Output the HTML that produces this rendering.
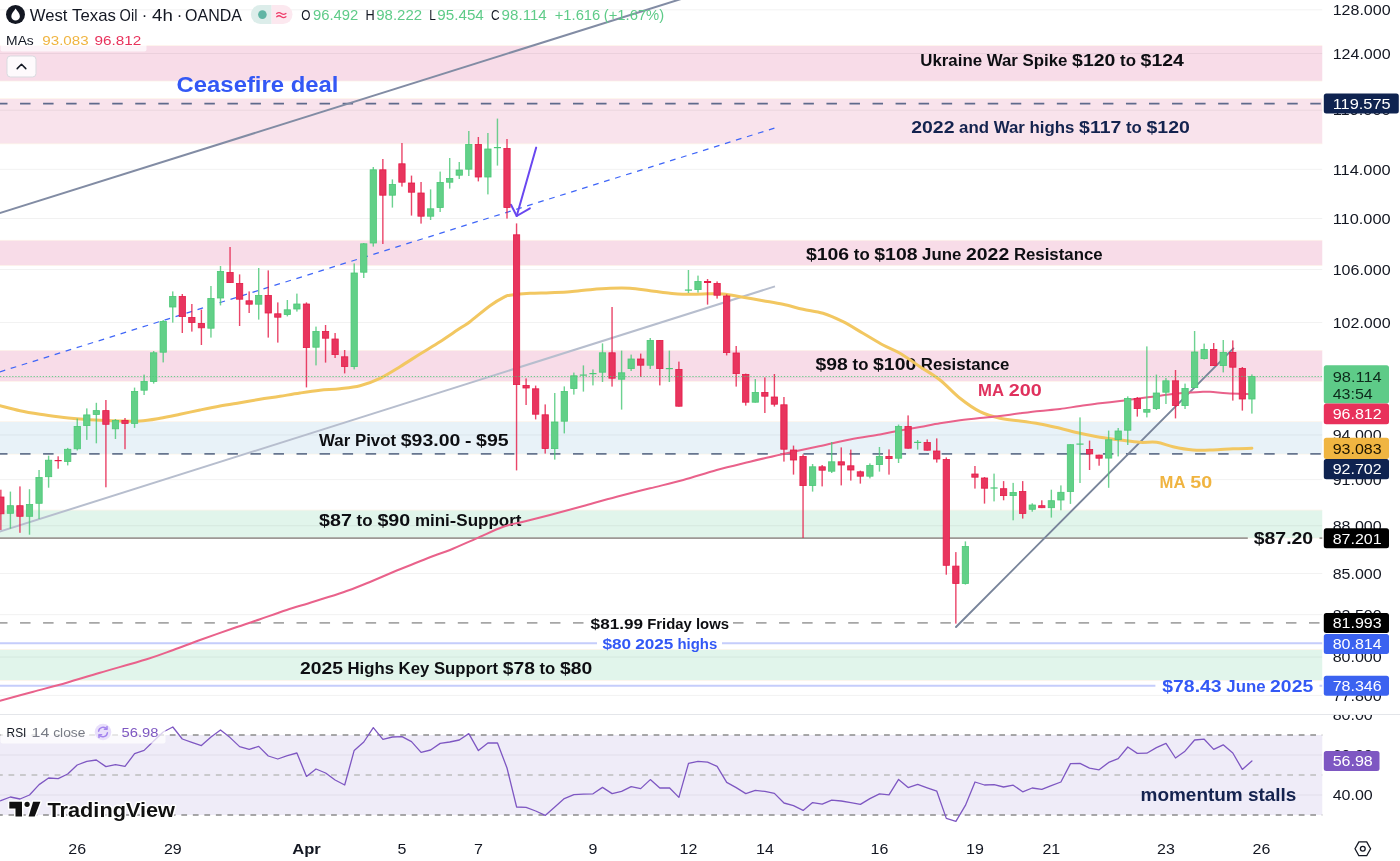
<!DOCTYPE html>
<html lang="en"><head><meta charset="utf-8"><title>West Texas Oil 4h chart</title>
<style>html,body{margin:0;padding:0;background:#fff;overflow:hidden}svg{display:block}text{white-space:pre}</style>
</head><body>
<svg width="1400" height="861" viewBox="0 0 1400 861" font-family='"Liberation Sans", sans-serif'>
<defs><clipPath id="cp"><rect x="0" y="0" width="1322.5" height="714"/></clipPath><clipPath id="cr"><rect x="0" y="715" width="1322.5" height="120"/></clipPath></defs>
<rect width="1400" height="861" fill="#fff"/>
<g clip-path="url(#cp)">
<rect x="0" y="45.8" width="1322.5" height="35.10" fill="#f8dce8"/>
<rect x="0" y="45.3" width="1322.5" height="0.7" fill="#fdf1e2" fill-opacity="0.8"/><rect x="0" y="80.70" width="1322.5" height="0.7" fill="#fdf1e2" fill-opacity="0.8"/>
<rect x="0" y="98.8" width="1322.5" height="44.90" fill="#f9e3ec"/>
<rect x="0" y="98.3" width="1322.5" height="0.7" fill="#fdf1e2" fill-opacity="0.8"/><rect x="0" y="143.50" width="1322.5" height="0.7" fill="#fdf1e2" fill-opacity="0.8"/>
<rect x="0" y="240.4" width="1322.5" height="25.00" fill="#f8dce8"/>
<rect x="0" y="239.9" width="1322.5" height="0.7" fill="#fdf1e2" fill-opacity="0.8"/><rect x="0" y="265.20" width="1322.5" height="0.7" fill="#fdf1e2" fill-opacity="0.8"/>
<rect x="0" y="350.5" width="1322.5" height="30.70" fill="#f8dce8"/>
<rect x="0" y="350.0" width="1322.5" height="0.7" fill="#fdf1e2" fill-opacity="0.8"/><rect x="0" y="381.00" width="1322.5" height="0.7" fill="#fdf1e2" fill-opacity="0.8"/>
<rect x="0" y="421.8" width="1322.5" height="32.20" fill="#e8f2f8"/>
<rect x="0" y="421.3" width="1322.5" height="0.7" fill="#fdf1e2" fill-opacity="0.8"/><rect x="0" y="453.80" width="1322.5" height="0.7" fill="#fdf1e2" fill-opacity="0.8"/>
<rect x="0" y="510.2" width="1322.5" height="27.80" fill="#e1f5eb"/>
<rect x="0" y="509.7" width="1322.5" height="0.7" fill="#fdf1e2" fill-opacity="0.8"/><rect x="0" y="537.80" width="1322.5" height="0.7" fill="#fdf1e2" fill-opacity="0.8"/>
<rect x="0" y="649.7" width="1322.5" height="30.50" fill="#e1f5eb"/>
<rect x="0" y="649.2" width="1322.5" height="0.7" fill="#fdf1e2" fill-opacity="0.8"/><rect x="0" y="680.00" width="1322.5" height="0.7" fill="#fdf1e2" fill-opacity="0.8"/>
<rect x="0" y="9.32" width="1322.5" height="1" fill="#000" fill-opacity="0.055"/>
<rect x="0" y="53.03" width="1322.5" height="1" fill="#000" fill-opacity="0.055"/>
<rect x="0" y="109.71" width="1322.5" height="1" fill="#000" fill-opacity="0.055"/>
<rect x="0" y="168.82" width="1322.5" height="1" fill="#000" fill-opacity="0.055"/>
<rect x="0" y="218.00" width="1322.5" height="1" fill="#000" fill-opacity="0.055"/>
<rect x="0" y="269.01" width="1322.5" height="1" fill="#000" fill-opacity="0.055"/>
<rect x="0" y="321.97" width="1322.5" height="1" fill="#000" fill-opacity="0.055"/>
<rect x="0" y="377.06" width="1322.5" height="1" fill="#000" fill-opacity="0.055"/>
<rect x="0" y="434.44" width="1322.5" height="1" fill="#000" fill-opacity="0.055"/>
<rect x="0" y="479.11" width="1322.5" height="1" fill="#000" fill-opacity="0.055"/>
<rect x="0" y="525.27" width="1322.5" height="1" fill="#000" fill-opacity="0.055"/>
<rect x="0" y="573.03" width="1322.5" height="1" fill="#000" fill-opacity="0.055"/>
<rect x="0" y="614.14" width="1322.5" height="1" fill="#000" fill-opacity="0.055"/>
<rect x="0" y="656.51" width="1322.5" height="1" fill="#000" fill-opacity="0.055"/>
<rect x="0" y="694.91" width="1322.5" height="1" fill="#000" fill-opacity="0.055"/>
<line x1="-3" x2="1322.5" y1="103.6" y2="103.6" stroke="#5f6a8c" stroke-width="1.8" stroke-dasharray="10.5 12.54"/>
<line x1="-3" x2="1322.5" y1="453.9" y2="453.9" stroke="#66758f" stroke-width="1.8" stroke-dasharray="10.5 12.54"/>
<line x1="0" x2="1247.8" y1="538.1" y2="538.1" stroke="#9d9995" stroke-width="1.8"/>
<line x1="1319.5" x2="1322.5" y1="538.1" y2="538.1" stroke="#9d9995" stroke-width="1.8"/>
<line x1="-3" x2="586" y1="622.9" y2="622.9" stroke="#a6a6a6" stroke-width="1.8" stroke-dasharray="10.5 12.54"/>
<line x1="733" x2="1322.5" y1="622.9" y2="622.9" stroke="#a6a6a6" stroke-width="1.8" stroke-dasharray="10.5 12.54"/>
<line x1="0" x2="597" y1="643.3" y2="643.3" stroke="#c5cdfb" stroke-width="2"/>
<line x1="722" x2="1322.5" y1="643.3" y2="643.3" stroke="#c5cdfb" stroke-width="2"/>
<line x1="0" x2="1155.4" y1="685.7" y2="685.7" stroke="#c5cdfb" stroke-width="2"/>
<line x1="1319.5" x2="1322.5" y1="685.7" y2="685.7" stroke="#c5cdfb" stroke-width="2"/>
<line x1="-5" y1="214.6" x2="690" y2="-3.8" stroke="#828ca4" stroke-width="2"/>
<line x1="-5" y1="533.1" x2="775" y2="286.4" stroke="#b7bece" stroke-width="2"/>
<line x1="-5" y1="373.4" x2="775" y2="127.9" stroke="#3f66f8" stroke-width="1.25" stroke-dasharray="5.76 5.76" stroke-dashoffset="6.57"/>
<line x1="956" y1="627" x2="1233.4" y2="348.4" stroke="#78849a" stroke-width="1.9" stroke-linecap="round"/>
<g stroke="#6947f0" stroke-width="2" fill="none" stroke-linecap="round" stroke-linejoin="round"><path d="M536.2 147.6L516.7 216"/><path d="M511 204.7L516.7 216L529.9 208.3"/></g>
<text x="176.6" y="92.1" font-size="22.3" fill="#3358f5" font-weight="700" textLength="161.8" lengthAdjust="spacingAndGlyphs">Ceasefire deal</text>
<text x="920.3" y="65.7" font-size="15.8" fill="#0d0e12" font-weight="700" textLength="147.2" lengthAdjust="spacingAndGlyphs">Ukraine War Spike</text>
<text x="1072.1" y="65.7" font-size="15.8" fill="#0d0e12" font-weight="700" textLength="43.3" lengthAdjust="spacingAndGlyphs">$120</text>
<text x="1120.1" y="65.7" font-size="15.8" fill="#0d0e12" font-weight="700" textLength="15.9" lengthAdjust="spacingAndGlyphs">to</text>
<text x="1140.6" y="65.7" font-size="15.8" fill="#0d0e12" font-weight="700" textLength="43.3" lengthAdjust="spacingAndGlyphs">$124</text>
<text x="911.2" y="132.7" font-size="15.8" fill="#14234f" font-weight="700" textLength="43.3" lengthAdjust="spacingAndGlyphs">2022</text>
<text x="959.1" y="132.7" font-size="15.8" fill="#14234f" font-weight="700" textLength="115.3" lengthAdjust="spacingAndGlyphs">and War highs</text>
<text x="1079.1" y="132.7" font-size="15.8" fill="#14234f" font-weight="700" textLength="42.2" lengthAdjust="spacingAndGlyphs">$117</text>
<text x="1126.0" y="132.7" font-size="15.8" fill="#14234f" font-weight="700" textLength="15.9" lengthAdjust="spacingAndGlyphs">to</text>
<text x="1146.5" y="132.7" font-size="15.8" fill="#14234f" font-weight="700" textLength="43.3" lengthAdjust="spacingAndGlyphs">$120</text>
<text x="805.9" y="259.6" font-size="15.8" fill="#0d0e12" font-weight="700" textLength="43.2" lengthAdjust="spacingAndGlyphs">$106</text>
<text x="853.8" y="259.6" font-size="15.8" fill="#0d0e12" font-weight="700" textLength="15.9" lengthAdjust="spacingAndGlyphs">to</text>
<text x="874.3" y="259.6" font-size="15.8" fill="#0d0e12" font-weight="700" textLength="43.2" lengthAdjust="spacingAndGlyphs">$108</text>
<text x="922.1" y="259.6" font-size="15.8" fill="#0d0e12" font-weight="700" textLength="39.2" lengthAdjust="spacingAndGlyphs">June</text>
<text x="966.0" y="259.6" font-size="15.8" fill="#0d0e12" font-weight="700" textLength="43.2" lengthAdjust="spacingAndGlyphs">2022</text>
<text x="1013.9" y="259.6" font-size="15.8" fill="#0d0e12" font-weight="700" textLength="88.7" lengthAdjust="spacingAndGlyphs">Resistance</text>
<text x="815.6" y="369.6" font-size="15.8" fill="#0d0e12" font-weight="700" textLength="32.3" lengthAdjust="spacingAndGlyphs">$98</text>
<text x="852.6" y="369.6" font-size="15.8" fill="#0d0e12" font-weight="700" textLength="15.8" lengthAdjust="spacingAndGlyphs">to</text>
<text x="873.1" y="369.6" font-size="15.8" fill="#0d0e12" font-weight="700" textLength="43.1" lengthAdjust="spacingAndGlyphs">$100</text>
<text x="920.8" y="369.6" font-size="15.8" fill="#0d0e12" font-weight="700" textLength="88.6" lengthAdjust="spacingAndGlyphs">Resistance</text>
<text x="978.0" y="396.0" font-size="15.8" fill="#e0315d" font-weight="700" textLength="26.0" lengthAdjust="spacingAndGlyphs">MA</text>
<text x="1008.7" y="396.0" font-size="15.8" fill="#e0315d" font-weight="700" textLength="33.0" lengthAdjust="spacingAndGlyphs">200</text>
<text x="1159.6" y="487.7" font-size="15.8" fill="#f0b440" font-weight="700" textLength="25.9" lengthAdjust="spacingAndGlyphs">MA</text>
<text x="1190.2" y="487.7" font-size="15.8" fill="#f0b440" font-weight="700" textLength="21.9" lengthAdjust="spacingAndGlyphs">50</text>
<text x="319.1" y="445.9" font-size="15.8" fill="#0d0e12" font-weight="700" textLength="77.0" lengthAdjust="spacingAndGlyphs">War Pivot</text>
<text x="400.8" y="445.9" font-size="15.8" fill="#0d0e12" font-weight="700" textLength="59.5" lengthAdjust="spacingAndGlyphs">$93.00</text>
<text x="465.0" y="445.9" font-size="15.8" fill="#0d0e12" font-weight="700" textLength="6.5" lengthAdjust="spacingAndGlyphs">-</text>
<text x="476.1" y="445.9" font-size="15.8" fill="#0d0e12" font-weight="700" textLength="32.5" lengthAdjust="spacingAndGlyphs">$95</text>
<text x="319.1" y="526.0" font-size="15.8" fill="#0d0e12" font-weight="700" textLength="32.8" lengthAdjust="spacingAndGlyphs">$87</text>
<text x="356.6" y="526.0" font-size="15.8" fill="#0d0e12" font-weight="700" textLength="16.0" lengthAdjust="spacingAndGlyphs">to</text>
<text x="377.4" y="526.0" font-size="15.8" fill="#0d0e12" font-weight="700" textLength="32.8" lengthAdjust="spacingAndGlyphs">$90</text>
<text x="414.9" y="526.0" font-size="15.8" fill="#0d0e12" font-weight="700" textLength="34.9" lengthAdjust="spacingAndGlyphs">mini</text>
<text x="449.8" y="526.0" font-size="15.8" fill="#0d0e12" font-weight="700" textLength="6.5" lengthAdjust="spacingAndGlyphs">-</text>
<text x="456.3" y="526.0" font-size="15.8" fill="#0d0e12" font-weight="700" textLength="65.2" lengthAdjust="spacingAndGlyphs">Support</text>
<text x="590.6" y="628.8" font-size="14" fill="#0d0e12" font-weight="700" textLength="52.5" lengthAdjust="spacingAndGlyphs">$81.99</text>
<text x="647.2" y="628.8" font-size="14" fill="#0d0e12" font-weight="700" textLength="81.8" lengthAdjust="spacingAndGlyphs">Friday lows</text>
<text x="602.4" y="648.8" font-size="14" fill="#3358f5" font-weight="700" textLength="28.7" lengthAdjust="spacingAndGlyphs">$80</text>
<text x="635.2" y="648.8" font-size="14" fill="#3358f5" font-weight="700" textLength="38.2" lengthAdjust="spacingAndGlyphs">2025</text>
<text x="677.5" y="648.8" font-size="14" fill="#3358f5" font-weight="700" textLength="39.7" lengthAdjust="spacingAndGlyphs">highs</text>
<text x="299.9" y="674.2" font-size="15.8" fill="#0d0e12" font-weight="700" textLength="43.0" lengthAdjust="spacingAndGlyphs">2025</text>
<text x="347.5" y="674.2" font-size="15.8" fill="#0d0e12" font-weight="700" textLength="150.5" lengthAdjust="spacingAndGlyphs">Highs Key Support</text>
<text x="502.7" y="674.2" font-size="15.8" fill="#0d0e12" font-weight="700" textLength="32.2" lengthAdjust="spacingAndGlyphs">$78</text>
<text x="539.5" y="674.2" font-size="15.8" fill="#0d0e12" font-weight="700" textLength="15.8" lengthAdjust="spacingAndGlyphs">to</text>
<text x="560.0" y="674.2" font-size="15.8" fill="#0d0e12" font-weight="700" textLength="32.2" lengthAdjust="spacingAndGlyphs">$80</text>
<text x="1253.7" y="544.0" font-size="15.8" fill="#0d0e12" font-weight="700" textLength="59.5" lengthAdjust="spacingAndGlyphs">$87.20</text>
<text x="1162.3" y="691.8" font-size="15.8" fill="#3358f5" font-weight="700" textLength="59.3" lengthAdjust="spacingAndGlyphs">$78.43</text>
<text x="1226.3" y="691.8" font-size="15.8" fill="#3358f5" font-weight="700" textLength="39.2" lengthAdjust="spacingAndGlyphs">June</text>
<text x="1270.1" y="691.8" font-size="15.8" fill="#3358f5" font-weight="700" textLength="43.1" lengthAdjust="spacingAndGlyphs">2025</text>
<path d="M-2.0 405.3C-1.7 405.4 -3.7 404.8 0.0 405.7C3.7 406.6 13.3 409.3 20.0 410.7C26.7 412.1 33.3 413.2 40.0 414.3C46.7 415.4 53.3 416.2 60.0 417.0C66.7 417.8 73.3 418.4 80.0 419.0C86.7 419.6 93.3 420.0 100.0 420.3C106.7 420.6 113.3 420.9 120.0 421.0C126.7 421.1 133.3 421.4 140.0 421.0C146.7 420.6 153.3 419.4 160.0 418.3C166.7 417.2 173.3 415.7 180.0 414.3C186.7 412.9 193.3 411.4 200.0 410.0C206.7 408.6 213.3 407.2 220.0 406.0C226.7 404.8 233.3 403.8 240.0 402.7C246.7 401.6 253.3 400.4 260.0 399.3C266.7 398.2 273.3 397.4 280.0 396.3C286.7 395.2 293.3 394.0 300.0 393.0C306.7 392.0 313.3 391.0 320.0 390.3C326.7 389.6 333.3 389.5 340.0 388.7C346.7 387.9 353.3 387.4 360.0 385.7C366.7 384.0 373.3 381.5 380.0 378.3C386.7 375.1 393.3 370.8 400.0 366.7C406.7 362.6 413.3 358.2 420.0 354.0C426.7 349.8 433.3 346.0 440.0 341.7C446.7 337.4 455.0 331.6 460.0 328.3C465.0 325.0 465.0 325.5 470.0 321.7C475.0 317.9 484.2 309.9 490.0 305.7C495.8 301.5 501.7 298.4 505.0 296.7C508.3 295.0 505.8 295.9 510.0 295.3C514.2 294.7 523.3 293.7 530.0 293.3C536.7 292.9 543.3 293.0 550.0 292.7C556.7 292.4 563.3 292.2 570.0 291.7C576.7 291.2 583.3 290.3 590.0 289.7C596.7 289.1 603.3 288.5 610.0 288.3C616.7 288.1 623.3 287.9 630.0 288.3C636.7 288.7 643.3 289.9 650.0 290.7C656.7 291.5 664.5 292.7 670.0 293.3C675.5 293.9 677.5 294.2 683.0 294.3C688.5 294.4 696.3 294.1 703.0 294.0C709.7 293.9 716.3 293.4 723.0 294.0C729.7 294.6 736.3 296.2 743.0 297.3C749.7 298.4 756.3 299.5 763.0 300.7C769.7 301.9 776.3 302.9 783.0 304.3C789.7 305.7 796.3 307.8 803.0 309.3C809.7 310.8 816.3 311.2 823.0 313.3C829.7 315.4 836.3 318.4 843.0 321.7C849.7 325.0 856.3 329.4 863.0 333.3C869.7 337.2 876.8 341.7 883.0 345.0C889.2 348.3 893.8 349.7 900.0 353.3C906.2 356.9 913.3 362.2 920.0 366.7C926.7 371.1 933.3 374.7 940.0 380.0C946.7 385.3 953.3 393.0 960.0 398.3C966.7 403.6 973.3 408.4 980.0 411.7C986.7 415.0 993.3 416.8 1000.0 418.3C1006.7 419.9 1013.3 420.1 1020.0 421.0C1026.7 421.9 1033.3 422.8 1040.0 424.0C1046.7 425.2 1053.3 426.8 1060.0 428.3C1066.7 429.9 1073.3 431.8 1080.0 433.3C1086.7 434.8 1093.3 436.2 1100.0 437.3C1106.7 438.4 1113.3 439.2 1120.0 440.0C1126.7 440.8 1133.9 441.9 1140.0 442.3C1146.1 442.7 1151.2 441.6 1156.7 442.3C1162.2 443.0 1167.0 445.4 1173.0 446.7C1179.0 448.0 1186.3 449.4 1193.0 450.0C1199.7 450.6 1206.3 450.2 1213.0 450.0C1219.7 449.8 1226.5 449.0 1233.0 448.7C1239.5 448.4 1248.8 448.4 1251.9 448.3" fill="none" stroke="#f2c761" stroke-width="3" stroke-linejoin="round" stroke-linecap="round"/>
<path d="M-2.0 701.2C-1.7 701.1 -5.9 702.3 0.0 700.7C5.9 699.1 22.2 694.7 33.3 691.7C44.4 688.7 55.6 685.9 66.7 682.7C77.8 679.5 86.7 676.6 100.0 672.7C113.3 668.8 134.5 663.1 146.7 659.3C158.9 655.5 164.4 653.2 173.3 650.0C182.2 646.8 190.0 643.6 200.0 640.0C210.0 636.4 223.3 631.8 233.3 628.3C243.3 624.8 251.1 622.3 260.0 619.3C268.9 616.2 277.8 612.9 286.7 610.0C295.6 607.1 303.9 604.7 313.3 601.7C322.7 598.8 334.4 595.4 343.3 592.3C352.2 589.2 357.2 587.1 366.7 583.3C376.1 579.5 388.9 573.8 400.0 569.3C411.1 564.8 425.0 559.2 433.3 556.0C441.6 552.8 442.8 553.0 450.0 550.0C457.2 547.0 467.8 542.2 476.7 538.3C485.6 534.4 495.5 529.5 503.3 526.7C511.1 523.9 515.5 523.7 523.3 521.7C531.1 519.8 540.0 517.6 550.0 515.0C560.0 512.4 572.2 509.1 583.3 506.0C594.4 502.9 605.6 499.6 616.7 496.7C627.8 493.8 638.9 491.1 650.0 488.3C661.1 485.5 672.2 483.1 683.3 480.0C694.4 476.9 705.6 473.1 716.7 470.0C727.8 466.9 738.9 464.4 750.0 461.7C761.1 459.0 772.2 456.5 783.3 454.0C794.4 451.5 805.6 449.1 816.7 446.7C827.8 444.3 839.5 441.4 850.0 439.4C860.5 437.3 871.7 435.9 880.0 434.4C888.3 432.9 893.3 431.8 900.0 430.6C906.7 429.4 913.3 428.2 920.0 427.0C926.7 425.8 933.3 424.4 940.0 423.3C946.7 422.2 953.3 421.2 960.0 420.3C966.7 419.4 973.3 418.7 980.0 418.0C986.7 417.3 993.3 416.8 1000.0 416.0C1006.7 415.2 1013.3 414.1 1020.0 413.3C1026.7 412.5 1033.3 411.7 1040.0 411.0C1046.7 410.3 1053.3 409.8 1060.0 409.0C1066.7 408.2 1073.3 406.9 1080.0 406.0C1086.7 405.1 1093.3 404.1 1100.0 403.3C1106.7 402.5 1113.3 401.8 1120.0 401.0C1126.7 400.2 1133.3 399.2 1140.0 398.3C1146.7 397.4 1153.3 396.5 1160.0 395.7C1166.7 394.9 1173.3 393.9 1180.0 393.3C1186.7 392.7 1195.0 392.3 1200.0 392.0C1205.0 391.7 1205.5 391.5 1210.0 391.7C1214.5 391.9 1220.6 392.9 1226.7 393.3C1232.8 393.7 1242.5 393.9 1246.7 394.0C1250.9 394.1 1251.0 394.2 1251.9 394.2" fill="none" stroke="#e9628b" stroke-width="2" stroke-linejoin="round" stroke-linecap="round"/>
<rect x="0.15" y="489.7" width="1.4" height="40.3" fill="#e51c48" fill-opacity="0.82"/>
<rect x="-2.30" y="497.0" width="6.3" height="16.8" fill="#e8355e" stroke="#e51c48" stroke-width="0.8"/>
<rect x="9.70" y="491.6" width="1.4" height="37.1" fill="#4cc877" fill-opacity="0.82"/>
<rect x="7.25" y="505.7" width="6.3" height="7.6" fill="#62d088" stroke="#4cc877" stroke-width="0.8"/>
<rect x="19.25" y="486.4" width="1.4" height="46.4" fill="#e51c48" fill-opacity="0.82"/>
<rect x="16.80" y="505.7" width="6.3" height="10.6" fill="#e8355e" stroke="#e51c48" stroke-width="0.8"/>
<rect x="28.80" y="489.2" width="1.4" height="45.5" fill="#4cc877" fill-opacity="0.82"/>
<rect x="26.35" y="504.4" width="6.3" height="11.9" fill="#62d088" stroke="#4cc877" stroke-width="0.8"/>
<rect x="38.35" y="470.0" width="1.4" height="48.9" fill="#4cc877" fill-opacity="0.82"/>
<rect x="35.90" y="477.5" width="6.3" height="25.8" fill="#62d088" stroke="#4cc877" stroke-width="0.8"/>
<rect x="47.90" y="455.7" width="1.4" height="32.0" fill="#4cc877" fill-opacity="0.82"/>
<rect x="45.45" y="460.2" width="6.3" height="16.5" fill="#62d088" stroke="#4cc877" stroke-width="0.8"/>
<rect x="57.45" y="456.3" width="1.4" height="12.4" fill="#e51c48" fill-opacity="0.82"/>
<rect x="54.60" y="460.0" width="7.1" height="1.2" fill="#e51c48"/>
<rect x="67.00" y="447.9" width="1.4" height="17.5" fill="#4cc877" fill-opacity="0.82"/>
<rect x="64.55" y="449.3" width="6.3" height="12.2" fill="#62d088" stroke="#4cc877" stroke-width="0.8"/>
<rect x="76.55" y="418.6" width="1.4" height="31.9" fill="#4cc877" fill-opacity="0.82"/>
<rect x="74.10" y="426.4" width="6.3" height="22.4" fill="#62d088" stroke="#4cc877" stroke-width="0.8"/>
<rect x="86.10" y="408.4" width="1.4" height="31.5" fill="#4cc877" fill-opacity="0.82"/>
<rect x="83.65" y="414.9" width="6.3" height="10.7" fill="#62d088" stroke="#4cc877" stroke-width="0.8"/>
<rect x="95.65" y="402.8" width="1.4" height="40.5" fill="#4cc877" fill-opacity="0.82"/>
<rect x="93.20" y="410.6" width="6.3" height="3.9" fill="#62d088" stroke="#4cc877" stroke-width="0.8"/>
<rect x="105.20" y="400.0" width="1.4" height="87.3" fill="#e51c48" fill-opacity="0.82"/>
<rect x="102.75" y="410.6" width="6.3" height="13.7" fill="#e8355e" stroke="#e51c48" stroke-width="0.8"/>
<rect x="114.75" y="419.0" width="1.4" height="20.0" fill="#4cc877" fill-opacity="0.82"/>
<rect x="112.30" y="420.4" width="6.3" height="8.4" fill="#62d088" stroke="#4cc877" stroke-width="0.8"/>
<rect x="124.30" y="418.0" width="1.4" height="31.2" fill="#e51c48" fill-opacity="0.82"/>
<rect x="121.85" y="420.4" width="6.3" height="3.0" fill="#e8355e" stroke="#e51c48" stroke-width="0.8"/>
<rect x="133.85" y="387.6" width="1.4" height="40.3" fill="#4cc877" fill-opacity="0.82"/>
<rect x="131.40" y="391.4" width="6.3" height="32.0" fill="#62d088" stroke="#4cc877" stroke-width="0.8"/>
<rect x="143.40" y="374.6" width="1.4" height="20.4" fill="#4cc877" fill-opacity="0.82"/>
<rect x="140.95" y="381.4" width="6.3" height="8.8" fill="#62d088" stroke="#4cc877" stroke-width="0.8"/>
<rect x="152.95" y="351.0" width="1.4" height="32.6" fill="#4cc877" fill-opacity="0.82"/>
<rect x="150.50" y="352.8" width="6.3" height="28.8" fill="#62d088" stroke="#4cc877" stroke-width="0.8"/>
<rect x="162.50" y="320.0" width="1.4" height="42.4" fill="#4cc877" fill-opacity="0.82"/>
<rect x="160.05" y="321.4" width="6.3" height="30.8" fill="#62d088" stroke="#4cc877" stroke-width="0.8"/>
<rect x="172.05" y="291.4" width="1.4" height="31.2" fill="#4cc877" fill-opacity="0.82"/>
<rect x="169.60" y="296.4" width="6.3" height="10.6" fill="#62d088" stroke="#4cc877" stroke-width="0.8"/>
<rect x="181.60" y="294.0" width="1.4" height="39.0" fill="#e51c48" fill-opacity="0.82"/>
<rect x="179.15" y="296.4" width="6.3" height="20.2" fill="#e8355e" stroke="#e51c48" stroke-width="0.8"/>
<rect x="191.15" y="304.0" width="1.4" height="27.6" fill="#e51c48" fill-opacity="0.82"/>
<rect x="188.70" y="317.4" width="6.3" height="5.2" fill="#e8355e" stroke="#e51c48" stroke-width="0.8"/>
<rect x="200.70" y="309.6" width="1.4" height="35.4" fill="#e51c48" fill-opacity="0.82"/>
<rect x="198.25" y="323.4" width="6.3" height="4.4" fill="#e8355e" stroke="#e51c48" stroke-width="0.8"/>
<rect x="210.25" y="286.0" width="1.4" height="51.6" fill="#4cc877" fill-opacity="0.82"/>
<rect x="207.80" y="298.4" width="6.3" height="29.8" fill="#62d088" stroke="#4cc877" stroke-width="0.8"/>
<rect x="219.80" y="266.0" width="1.4" height="39.4" fill="#4cc877" fill-opacity="0.82"/>
<rect x="217.35" y="271.4" width="6.3" height="26.6" fill="#62d088" stroke="#4cc877" stroke-width="0.8"/>
<rect x="229.35" y="247.0" width="1.4" height="36.0" fill="#e51c48" fill-opacity="0.82"/>
<rect x="226.90" y="272.4" width="6.3" height="10.2" fill="#e8355e" stroke="#e51c48" stroke-width="0.8"/>
<rect x="238.90" y="274.4" width="1.4" height="51.6" fill="#e51c48" fill-opacity="0.82"/>
<rect x="236.45" y="283.4" width="6.3" height="15.8" fill="#e8355e" stroke="#e51c48" stroke-width="0.8"/>
<rect x="248.45" y="291.4" width="1.4" height="21.6" fill="#e51c48" fill-opacity="0.82"/>
<rect x="246.00" y="300.8" width="6.3" height="3.4" fill="#e8355e" stroke="#e51c48" stroke-width="0.8"/>
<rect x="258.00" y="268.0" width="1.4" height="51.6" fill="#4cc877" fill-opacity="0.82"/>
<rect x="255.55" y="295.4" width="6.3" height="8.8" fill="#62d088" stroke="#4cc877" stroke-width="0.8"/>
<rect x="267.55" y="270.4" width="1.4" height="67.2" fill="#e51c48" fill-opacity="0.82"/>
<rect x="265.10" y="295.4" width="6.3" height="17.6" fill="#e8355e" stroke="#e51c48" stroke-width="0.8"/>
<rect x="277.10" y="302.4" width="1.4" height="40.2" fill="#e51c48" fill-opacity="0.82"/>
<rect x="274.65" y="313.8" width="6.3" height="3.4" fill="#e8355e" stroke="#e51c48" stroke-width="0.8"/>
<rect x="286.65" y="300.0" width="1.4" height="16.4" fill="#4cc877" fill-opacity="0.82"/>
<rect x="284.20" y="309.8" width="6.3" height="4.8" fill="#62d088" stroke="#4cc877" stroke-width="0.8"/>
<rect x="296.20" y="293.6" width="1.4" height="18.0" fill="#4cc877" fill-opacity="0.82"/>
<rect x="293.75" y="304.0" width="6.3" height="5.0" fill="#62d088" stroke="#4cc877" stroke-width="0.8"/>
<rect x="305.75" y="302.4" width="1.4" height="85.0" fill="#e51c48" fill-opacity="0.82"/>
<rect x="303.30" y="304.0" width="6.3" height="43.6" fill="#e8355e" stroke="#e51c48" stroke-width="0.8"/>
<rect x="315.30" y="326.6" width="1.4" height="38.8" fill="#4cc877" fill-opacity="0.82"/>
<rect x="312.85" y="331.4" width="6.3" height="15.8" fill="#62d088" stroke="#4cc877" stroke-width="0.8"/>
<rect x="324.85" y="325.0" width="1.4" height="37.6" fill="#e51c48" fill-opacity="0.82"/>
<rect x="322.40" y="331.4" width="6.3" height="6.8" fill="#e8355e" stroke="#e51c48" stroke-width="0.8"/>
<rect x="334.40" y="333.0" width="1.4" height="25.0" fill="#e51c48" fill-opacity="0.82"/>
<rect x="331.95" y="339.0" width="6.3" height="15.6" fill="#e8355e" stroke="#e51c48" stroke-width="0.8"/>
<rect x="343.95" y="350.0" width="1.4" height="23.4" fill="#e51c48" fill-opacity="0.82"/>
<rect x="341.50" y="356.8" width="6.3" height="9.8" fill="#e8355e" stroke="#e51c48" stroke-width="0.8"/>
<rect x="353.50" y="263.4" width="1.4" height="106.0" fill="#4cc877" fill-opacity="0.82"/>
<rect x="351.05" y="273.0" width="6.3" height="93.6" fill="#62d088" stroke="#4cc877" stroke-width="0.8"/>
<rect x="363.05" y="243.0" width="1.4" height="35.0" fill="#4cc877" fill-opacity="0.82"/>
<rect x="360.60" y="243.8" width="6.3" height="28.4" fill="#62d088" stroke="#4cc877" stroke-width="0.8"/>
<rect x="372.60" y="167.0" width="1.4" height="79.6" fill="#4cc877" fill-opacity="0.82"/>
<rect x="370.15" y="169.8" width="6.3" height="73.2" fill="#62d088" stroke="#4cc877" stroke-width="0.8"/>
<rect x="382.15" y="159.0" width="1.4" height="85.0" fill="#e51c48" fill-opacity="0.82"/>
<rect x="379.70" y="169.8" width="6.3" height="25.4" fill="#e8355e" stroke="#e51c48" stroke-width="0.8"/>
<rect x="391.70" y="179.4" width="1.4" height="28.2" fill="#4cc877" fill-opacity="0.82"/>
<rect x="389.25" y="184.4" width="6.3" height="10.8" fill="#62d088" stroke="#4cc877" stroke-width="0.8"/>
<rect x="401.25" y="143.0" width="1.4" height="43.6" fill="#e51c48" fill-opacity="0.82"/>
<rect x="398.80" y="163.8" width="6.3" height="18.4" fill="#e8355e" stroke="#e51c48" stroke-width="0.8"/>
<rect x="410.80" y="175.6" width="1.4" height="40.0" fill="#e51c48" fill-opacity="0.82"/>
<rect x="408.35" y="183.0" width="6.3" height="9.2" fill="#e8355e" stroke="#e51c48" stroke-width="0.8"/>
<rect x="420.35" y="182.0" width="1.4" height="41.6" fill="#e51c48" fill-opacity="0.82"/>
<rect x="417.90" y="193.0" width="6.3" height="23.2" fill="#e8355e" stroke="#e51c48" stroke-width="0.8"/>
<rect x="429.90" y="189.4" width="1.4" height="30.6" fill="#4cc877" fill-opacity="0.82"/>
<rect x="427.45" y="208.8" width="6.3" height="7.4" fill="#62d088" stroke="#4cc877" stroke-width="0.8"/>
<rect x="439.45" y="171.6" width="1.4" height="40.4" fill="#4cc877" fill-opacity="0.82"/>
<rect x="437.00" y="182.4" width="6.3" height="25.2" fill="#62d088" stroke="#4cc877" stroke-width="0.8"/>
<rect x="449.00" y="158.0" width="1.4" height="30.6" fill="#4cc877" fill-opacity="0.82"/>
<rect x="446.55" y="178.4" width="6.3" height="3.8" fill="#62d088" stroke="#4cc877" stroke-width="0.8"/>
<rect x="458.55" y="162.0" width="1.4" height="17.0" fill="#4cc877" fill-opacity="0.82"/>
<rect x="456.10" y="170.0" width="6.3" height="5.2" fill="#62d088" stroke="#4cc877" stroke-width="0.8"/>
<rect x="468.10" y="131.0" width="1.4" height="45.0" fill="#4cc877" fill-opacity="0.82"/>
<rect x="465.65" y="144.4" width="6.3" height="24.8" fill="#62d088" stroke="#4cc877" stroke-width="0.8"/>
<rect x="477.65" y="137.0" width="1.4" height="44.4" fill="#e51c48" fill-opacity="0.82"/>
<rect x="475.20" y="144.4" width="6.3" height="32.6" fill="#e8355e" stroke="#e51c48" stroke-width="0.8"/>
<rect x="487.20" y="133.0" width="1.4" height="61.4" fill="#4cc877" fill-opacity="0.82"/>
<rect x="484.75" y="149.0" width="6.3" height="28.0" fill="#62d088" stroke="#4cc877" stroke-width="0.8"/>
<rect x="496.75" y="118.6" width="1.4" height="47.0" fill="#4cc877" fill-opacity="0.82"/>
<rect x="493.90" y="147.0" width="7.1" height="1.2" fill="#4cc877"/>
<rect x="506.30" y="139.0" width="1.4" height="79.6" fill="#e51c48" fill-opacity="0.82"/>
<rect x="503.85" y="148.4" width="6.3" height="59.2" fill="#e8355e" stroke="#e51c48" stroke-width="0.8"/>
<rect x="515.85" y="223.4" width="1.4" height="247.0" fill="#e51c48" fill-opacity="0.82"/>
<rect x="513.40" y="234.8" width="6.3" height="149.8" fill="#e8355e" stroke="#e51c48" stroke-width="0.8"/>
<rect x="525.40" y="378.4" width="1.4" height="26.6" fill="#e51c48" fill-opacity="0.82"/>
<rect x="522.95" y="385.4" width="6.3" height="2.6" fill="#e8355e" stroke="#e51c48" stroke-width="0.8"/>
<rect x="534.95" y="385.6" width="1.4" height="33.8" fill="#e51c48" fill-opacity="0.82"/>
<rect x="532.50" y="388.8" width="6.3" height="25.4" fill="#e8355e" stroke="#e51c48" stroke-width="0.8"/>
<rect x="544.50" y="404.4" width="1.4" height="49.2" fill="#e51c48" fill-opacity="0.82"/>
<rect x="542.05" y="414.8" width="6.3" height="33.8" fill="#e8355e" stroke="#e51c48" stroke-width="0.8"/>
<rect x="554.05" y="393.0" width="1.4" height="66.6" fill="#4cc877" fill-opacity="0.82"/>
<rect x="551.60" y="422.0" width="6.3" height="26.6" fill="#62d088" stroke="#4cc877" stroke-width="0.8"/>
<rect x="563.60" y="386.4" width="1.4" height="47.0" fill="#4cc877" fill-opacity="0.82"/>
<rect x="561.15" y="391.4" width="6.3" height="29.8" fill="#62d088" stroke="#4cc877" stroke-width="0.8"/>
<rect x="573.15" y="372.6" width="1.4" height="22.0" fill="#4cc877" fill-opacity="0.82"/>
<rect x="570.70" y="375.8" width="6.3" height="12.8" fill="#62d088" stroke="#4cc877" stroke-width="0.8"/>
<rect x="582.70" y="365.4" width="1.4" height="26.2" fill="#4cc877" fill-opacity="0.82"/>
<rect x="579.85" y="374.5" width="7.1" height="1.2" fill="#4cc877"/>
<rect x="592.25" y="369.4" width="1.4" height="16.0" fill="#4cc877" fill-opacity="0.82"/>
<rect x="589.40" y="373.0" width="7.1" height="1.2" fill="#4cc877"/>
<rect x="601.80" y="343.4" width="1.4" height="38.6" fill="#4cc877" fill-opacity="0.82"/>
<rect x="599.35" y="352.8" width="6.3" height="19.4" fill="#62d088" stroke="#4cc877" stroke-width="0.8"/>
<rect x="611.35" y="307.0" width="1.4" height="79.6" fill="#e51c48" fill-opacity="0.82"/>
<rect x="608.90" y="352.8" width="6.3" height="25.4" fill="#e8355e" stroke="#e51c48" stroke-width="0.8"/>
<rect x="620.90" y="350.6" width="1.4" height="59.0" fill="#4cc877" fill-opacity="0.82"/>
<rect x="618.45" y="372.8" width="6.3" height="6.4" fill="#62d088" stroke="#4cc877" stroke-width="0.8"/>
<rect x="630.45" y="354.6" width="1.4" height="16.4" fill="#4cc877" fill-opacity="0.82"/>
<rect x="628.00" y="359.0" width="6.3" height="9.6" fill="#62d088" stroke="#4cc877" stroke-width="0.8"/>
<rect x="640.00" y="353.6" width="1.4" height="23.4" fill="#e51c48" fill-opacity="0.82"/>
<rect x="637.55" y="359.0" width="6.3" height="6.2" fill="#e8355e" stroke="#e51c48" stroke-width="0.8"/>
<rect x="649.55" y="338.0" width="1.4" height="31.0" fill="#4cc877" fill-opacity="0.82"/>
<rect x="647.10" y="340.4" width="6.3" height="24.8" fill="#62d088" stroke="#4cc877" stroke-width="0.8"/>
<rect x="659.10" y="340.0" width="1.4" height="45.4" fill="#e51c48" fill-opacity="0.82"/>
<rect x="656.65" y="340.4" width="6.3" height="28.2" fill="#e8355e" stroke="#e51c48" stroke-width="0.8"/>
<rect x="668.65" y="350.6" width="1.4" height="31.4" fill="#4cc877" fill-opacity="0.82"/>
<rect x="665.80" y="368.0" width="7.1" height="1.2" fill="#4cc877"/>
<rect x="678.20" y="361.6" width="1.4" height="45.0" fill="#e51c48" fill-opacity="0.82"/>
<rect x="675.75" y="369.4" width="6.3" height="36.8" fill="#e8355e" stroke="#e51c48" stroke-width="0.8"/>
<rect x="687.75" y="270.0" width="1.4" height="23.0" fill="#4cc877" fill-opacity="0.82"/>
<rect x="684.90" y="289.5" width="7.1" height="1.2" fill="#4cc877"/>
<rect x="697.30" y="275.6" width="1.4" height="17.0" fill="#4cc877" fill-opacity="0.82"/>
<rect x="694.85" y="281.4" width="6.3" height="8.2" fill="#62d088" stroke="#4cc877" stroke-width="0.8"/>
<rect x="706.85" y="279.0" width="1.4" height="25.6" fill="#e51c48" fill-opacity="0.82"/>
<rect x="704.00" y="281.0" width="7.1" height="2.0" fill="#e51c48"/>
<rect x="716.40" y="281.4" width="1.4" height="17.2" fill="#e51c48" fill-opacity="0.82"/>
<rect x="713.95" y="283.4" width="6.3" height="11.8" fill="#e8355e" stroke="#e51c48" stroke-width="0.8"/>
<rect x="725.95" y="294.4" width="1.4" height="61.0" fill="#e51c48" fill-opacity="0.82"/>
<rect x="723.50" y="296.0" width="6.3" height="56.6" fill="#e8355e" stroke="#e51c48" stroke-width="0.8"/>
<rect x="735.50" y="346.0" width="1.4" height="40.6" fill="#e51c48" fill-opacity="0.82"/>
<rect x="733.05" y="353.0" width="6.3" height="20.6" fill="#e8355e" stroke="#e51c48" stroke-width="0.8"/>
<rect x="745.05" y="373.6" width="1.4" height="32.0" fill="#e51c48" fill-opacity="0.82"/>
<rect x="742.60" y="374.4" width="6.3" height="27.8" fill="#e8355e" stroke="#e51c48" stroke-width="0.8"/>
<rect x="754.60" y="379.0" width="1.4" height="23.6" fill="#4cc877" fill-opacity="0.82"/>
<rect x="752.15" y="392.4" width="6.3" height="9.8" fill="#62d088" stroke="#4cc877" stroke-width="0.8"/>
<rect x="764.15" y="377.4" width="1.4" height="35.6" fill="#e51c48" fill-opacity="0.82"/>
<rect x="761.70" y="392.4" width="6.3" height="3.8" fill="#e8355e" stroke="#e51c48" stroke-width="0.8"/>
<rect x="773.70" y="374.0" width="1.4" height="32.6" fill="#e51c48" fill-opacity="0.82"/>
<rect x="771.25" y="397.0" width="6.3" height="7.2" fill="#e8355e" stroke="#e51c48" stroke-width="0.8"/>
<rect x="783.25" y="397.0" width="1.4" height="64.6" fill="#e51c48" fill-opacity="0.82"/>
<rect x="780.80" y="404.8" width="6.3" height="44.4" fill="#e8355e" stroke="#e51c48" stroke-width="0.8"/>
<rect x="792.80" y="445.6" width="1.4" height="29.0" fill="#e51c48" fill-opacity="0.82"/>
<rect x="790.35" y="450.0" width="6.3" height="10.0" fill="#e8355e" stroke="#e51c48" stroke-width="0.8"/>
<rect x="802.35" y="454.4" width="1.4" height="83.6" fill="#e51c48" fill-opacity="0.82"/>
<rect x="799.90" y="456.4" width="6.3" height="29.2" fill="#e8355e" stroke="#e51c48" stroke-width="0.8"/>
<rect x="811.90" y="464.0" width="1.4" height="27.6" fill="#4cc877" fill-opacity="0.82"/>
<rect x="809.45" y="466.8" width="6.3" height="18.8" fill="#62d088" stroke="#4cc877" stroke-width="0.8"/>
<rect x="821.45" y="465.0" width="1.4" height="21.4" fill="#e51c48" fill-opacity="0.82"/>
<rect x="819.00" y="466.8" width="6.3" height="3.4" fill="#e8355e" stroke="#e51c48" stroke-width="0.8"/>
<rect x="831.00" y="442.0" width="1.4" height="31.0" fill="#4cc877" fill-opacity="0.82"/>
<rect x="828.55" y="461.8" width="6.3" height="9.4" fill="#62d088" stroke="#4cc877" stroke-width="0.8"/>
<rect x="840.55" y="447.4" width="1.4" height="38.0" fill="#e51c48" fill-opacity="0.82"/>
<rect x="838.10" y="461.8" width="6.3" height="3.2" fill="#e8355e" stroke="#e51c48" stroke-width="0.8"/>
<rect x="850.10" y="449.6" width="1.4" height="31.0" fill="#e51c48" fill-opacity="0.82"/>
<rect x="847.65" y="465.8" width="6.3" height="4.2" fill="#e8355e" stroke="#e51c48" stroke-width="0.8"/>
<rect x="859.65" y="470.6" width="1.4" height="13.0" fill="#e51c48" fill-opacity="0.82"/>
<rect x="857.20" y="471.8" width="6.3" height="4.4" fill="#e8355e" stroke="#e51c48" stroke-width="0.8"/>
<rect x="869.20" y="463.4" width="1.4" height="15.0" fill="#4cc877" fill-opacity="0.82"/>
<rect x="866.75" y="465.4" width="6.3" height="10.8" fill="#62d088" stroke="#4cc877" stroke-width="0.8"/>
<rect x="878.75" y="447.0" width="1.4" height="24.6" fill="#4cc877" fill-opacity="0.82"/>
<rect x="876.30" y="456.4" width="6.3" height="8.2" fill="#62d088" stroke="#4cc877" stroke-width="0.8"/>
<rect x="888.30" y="449.4" width="1.4" height="25.2" fill="#e51c48" fill-opacity="0.82"/>
<rect x="885.85" y="456.4" width="6.3" height="2.2" fill="#e8355e" stroke="#e51c48" stroke-width="0.8"/>
<rect x="897.85" y="424.6" width="1.4" height="38.4" fill="#4cc877" fill-opacity="0.82"/>
<rect x="895.40" y="426.4" width="6.3" height="31.8" fill="#62d088" stroke="#4cc877" stroke-width="0.8"/>
<rect x="907.40" y="415.4" width="1.4" height="33.2" fill="#e51c48" fill-opacity="0.82"/>
<rect x="904.95" y="426.4" width="6.3" height="21.8" fill="#e8355e" stroke="#e51c48" stroke-width="0.8"/>
<rect x="916.95" y="440.0" width="1.4" height="9.6" fill="#4cc877" fill-opacity="0.82"/>
<rect x="914.10" y="441.8" width="7.1" height="1.2" fill="#4cc877"/>
<rect x="926.50" y="439.4" width="1.4" height="11.2" fill="#e51c48" fill-opacity="0.82"/>
<rect x="924.05" y="442.4" width="6.3" height="7.8" fill="#e8355e" stroke="#e51c48" stroke-width="0.8"/>
<rect x="936.05" y="438.4" width="1.4" height="24.2" fill="#e51c48" fill-opacity="0.82"/>
<rect x="933.60" y="451.0" width="6.3" height="8.0" fill="#e8355e" stroke="#e51c48" stroke-width="0.8"/>
<rect x="945.60" y="457.4" width="1.4" height="117.3" fill="#e51c48" fill-opacity="0.82"/>
<rect x="943.15" y="459.4" width="6.3" height="105.9" fill="#e8355e" stroke="#e51c48" stroke-width="0.8"/>
<rect x="955.15" y="552.1" width="1.4" height="71.5" fill="#e51c48" fill-opacity="0.82"/>
<rect x="952.70" y="566.1" width="6.3" height="17.4" fill="#e8355e" stroke="#e51c48" stroke-width="0.8"/>
<rect x="964.70" y="541.4" width="1.4" height="43.2" fill="#4cc877" fill-opacity="0.82"/>
<rect x="962.25" y="546.5" width="6.3" height="37.1" fill="#62d088" stroke="#4cc877" stroke-width="0.8"/>
<rect x="974.25" y="466.0" width="1.4" height="22.6" fill="#e51c48" fill-opacity="0.82"/>
<rect x="971.80" y="474.0" width="6.3" height="3.2" fill="#e8355e" stroke="#e51c48" stroke-width="0.8"/>
<rect x="983.80" y="477.0" width="1.4" height="26.6" fill="#e51c48" fill-opacity="0.82"/>
<rect x="981.35" y="478.0" width="6.3" height="10.2" fill="#e8355e" stroke="#e51c48" stroke-width="0.8"/>
<rect x="993.35" y="473.6" width="1.4" height="27.8" fill="#4cc877" fill-opacity="0.82"/>
<rect x="990.50" y="487.4" width="7.1" height="1.2" fill="#4cc877"/>
<rect x="1002.90" y="481.1" width="1.4" height="19.2" fill="#e51c48" fill-opacity="0.82"/>
<rect x="1000.45" y="488.7" width="6.3" height="6.9" fill="#e8355e" stroke="#e51c48" stroke-width="0.8"/>
<rect x="1012.45" y="482.9" width="1.4" height="37.4" fill="#4cc877" fill-opacity="0.82"/>
<rect x="1010.00" y="492.5" width="6.3" height="3.1" fill="#62d088" stroke="#4cc877" stroke-width="0.8"/>
<rect x="1022.00" y="481.1" width="1.4" height="37.5" fill="#e51c48" fill-opacity="0.82"/>
<rect x="1019.55" y="491.5" width="6.3" height="22.0" fill="#e8355e" stroke="#e51c48" stroke-width="0.8"/>
<rect x="1031.55" y="503.3" width="1.4" height="8.4" fill="#4cc877" fill-opacity="0.82"/>
<rect x="1029.10" y="505.0" width="6.3" height="4.3" fill="#62d088" stroke="#4cc877" stroke-width="0.8"/>
<rect x="1041.10" y="500.3" width="1.4" height="7.8" fill="#e51c48" fill-opacity="0.82"/>
<rect x="1038.65" y="505.7" width="6.3" height="2.0" fill="#e8355e" stroke="#e51c48" stroke-width="0.8"/>
<rect x="1050.65" y="489.7" width="1.4" height="27.9" fill="#4cc877" fill-opacity="0.82"/>
<rect x="1048.20" y="500.7" width="6.3" height="7.0" fill="#62d088" stroke="#4cc877" stroke-width="0.8"/>
<rect x="1060.20" y="485.4" width="1.4" height="24.9" fill="#4cc877" fill-opacity="0.82"/>
<rect x="1057.75" y="492.3" width="6.3" height="7.7" fill="#62d088" stroke="#4cc877" stroke-width="0.8"/>
<rect x="1069.75" y="444.3" width="1.4" height="59.6" fill="#4cc877" fill-opacity="0.82"/>
<rect x="1067.30" y="444.7" width="6.3" height="46.8" fill="#62d088" stroke="#4cc877" stroke-width="0.8"/>
<rect x="1079.30" y="417.4" width="1.4" height="65.6" fill="#4cc877" fill-opacity="0.82"/>
<rect x="1076.45" y="443.5" width="7.1" height="1.2" fill="#4cc877"/>
<rect x="1088.85" y="440.6" width="1.4" height="29.4" fill="#e51c48" fill-opacity="0.82"/>
<rect x="1086.40" y="449.4" width="6.3" height="4.5" fill="#e8355e" stroke="#e51c48" stroke-width="0.8"/>
<rect x="1098.40" y="454.7" width="1.4" height="11.0" fill="#e51c48" fill-opacity="0.82"/>
<rect x="1095.95" y="455.1" width="6.3" height="3.1" fill="#e8355e" stroke="#e51c48" stroke-width="0.8"/>
<rect x="1107.95" y="430.6" width="1.4" height="57.2" fill="#4cc877" fill-opacity="0.82"/>
<rect x="1105.50" y="439.8" width="6.3" height="18.3" fill="#62d088" stroke="#4cc877" stroke-width="0.8"/>
<rect x="1117.50" y="428.0" width="1.4" height="28.4" fill="#4cc877" fill-opacity="0.82"/>
<rect x="1115.05" y="431.0" width="6.3" height="8.6" fill="#62d088" stroke="#4cc877" stroke-width="0.8"/>
<rect x="1127.05" y="396.4" width="1.4" height="48.6" fill="#4cc877" fill-opacity="0.82"/>
<rect x="1124.60" y="398.4" width="6.3" height="31.8" fill="#62d088" stroke="#4cc877" stroke-width="0.8"/>
<rect x="1136.60" y="397.0" width="1.4" height="19.6" fill="#e51c48" fill-opacity="0.82"/>
<rect x="1134.15" y="398.4" width="6.3" height="10.2" fill="#e8355e" stroke="#e51c48" stroke-width="0.8"/>
<rect x="1146.15" y="346.4" width="1.4" height="71.0" fill="#4cc877" fill-opacity="0.82"/>
<rect x="1143.70" y="409.4" width="6.3" height="2.8" fill="#62d088" stroke="#4cc877" stroke-width="0.8"/>
<rect x="1155.70" y="374.6" width="1.4" height="35.4" fill="#4cc877" fill-opacity="0.82"/>
<rect x="1153.25" y="393.0" width="6.3" height="15.6" fill="#62d088" stroke="#4cc877" stroke-width="0.8"/>
<rect x="1165.25" y="378.0" width="1.4" height="26.0" fill="#4cc877" fill-opacity="0.82"/>
<rect x="1162.80" y="380.8" width="6.3" height="11.4" fill="#62d088" stroke="#4cc877" stroke-width="0.8"/>
<rect x="1174.80" y="370.0" width="1.4" height="48.4" fill="#e51c48" fill-opacity="0.82"/>
<rect x="1172.35" y="380.8" width="6.3" height="24.8" fill="#e8355e" stroke="#e51c48" stroke-width="0.8"/>
<rect x="1184.35" y="383.6" width="1.4" height="25.4" fill="#4cc877" fill-opacity="0.82"/>
<rect x="1181.90" y="388.4" width="6.3" height="17.2" fill="#62d088" stroke="#4cc877" stroke-width="0.8"/>
<rect x="1193.90" y="331.0" width="1.4" height="57.0" fill="#4cc877" fill-opacity="0.82"/>
<rect x="1191.45" y="352.0" width="6.3" height="35.6" fill="#62d088" stroke="#4cc877" stroke-width="0.8"/>
<rect x="1203.45" y="343.6" width="1.4" height="16.0" fill="#4cc877" fill-opacity="0.82"/>
<rect x="1201.00" y="349.4" width="6.3" height="9.2" fill="#62d088" stroke="#4cc877" stroke-width="0.8"/>
<rect x="1213.00" y="343.0" width="1.4" height="23.0" fill="#e51c48" fill-opacity="0.82"/>
<rect x="1210.55" y="349.4" width="6.3" height="16.2" fill="#e8355e" stroke="#e51c48" stroke-width="0.8"/>
<rect x="1222.55" y="340.0" width="1.4" height="32.4" fill="#4cc877" fill-opacity="0.82"/>
<rect x="1220.10" y="352.4" width="6.3" height="13.2" fill="#62d088" stroke="#4cc877" stroke-width="0.8"/>
<rect x="1232.10" y="340.4" width="1.4" height="60.2" fill="#e51c48" fill-opacity="0.82"/>
<rect x="1229.65" y="352.4" width="6.3" height="14.8" fill="#e8355e" stroke="#e51c48" stroke-width="0.8"/>
<rect x="1241.65" y="367.0" width="1.4" height="43.6" fill="#e51c48" fill-opacity="0.82"/>
<rect x="1239.20" y="368.4" width="6.3" height="30.6" fill="#e8355e" stroke="#e51c48" stroke-width="0.8"/>
<rect x="1251.20" y="374.4" width="1.4" height="39.2" fill="#4cc877" fill-opacity="0.82"/>
<rect x="1248.75" y="376.4" width="6.3" height="22.6" fill="#62d088" stroke="#4cc877" stroke-width="0.8"/>
<line x1="0" x2="1322.5" y1="376.5" y2="376.5" stroke="#4cc877" stroke-opacity="0.8" stroke-width="1.2" stroke-dasharray="1.3 1.75"/>
</g>
<rect x="0" y="714" width="1400" height="1" fill="#e4e6ea"/>
<g clip-path="url(#cr)">
<rect x="0" y="735" width="1322.5" height="80" fill="#efecf8"/>
<rect x="0" y="754.5" width="1322.5" height="1" fill="#000" fill-opacity="0.055"/>
<rect x="0" y="794.5" width="1322.5" height="1" fill="#000" fill-opacity="0.055"/>
<line x1="-3" x2="1322.5" y1="735" y2="735" stroke="#8c8c8c" stroke-width="1.7" stroke-dasharray="5.76 5.76"/>
<line x1="-3" x2="1322.5" y1="815" y2="815" stroke="#8c8c8c" stroke-width="1.7" stroke-dasharray="5.76 5.76"/>
<line x1="-3" x2="1322.5" y1="775" y2="775" stroke="#bdbdbd" stroke-width="1.4" stroke-dasharray="5.76 5.76"/>
<path d="M-8.7 803.0 L0.8 800.6 L10.4 797.0 L20.0 799.0 L29.5 795.0 L39.1 784.6 L48.6 778.0 L58.2 778.6 L67.7 774.0 L77.2 765.0 L86.8 761.4 L96.3 760.0 L105.9 766.6 L115.5 764.6 L125.0 766.4 L134.6 753.6 L144.1 750.4 L153.7 741.0 L163.2 732.0 L172.8 727.0 L182.3 739.0 L191.8 742.4 L201.4 745.6 L211.0 737.0 L220.5 730.0 L230.1 737.6 L239.6 746.6 L249.2 749.4 L258.7 746.4 L268.3 756.0 L277.8 759.0 L287.4 755.6 L296.9 753.0 L306.5 776.4 L316.0 769.0 L325.6 773.0 L335.1 780.0 L344.7 785.0 L354.2 750.4 L363.8 742.0 L373.3 727.6 L382.9 739.4 L392.4 737.0 L402.0 736.6 L411.5 741.6 L421.1 752.4 L430.6 750.0 L440.2 743.4 L449.7 742.0 L459.3 740.0 L468.8 733.6 L478.4 750.6 L487.9 743.0 L497.5 743.0 L507.0 768.0 L516.6 807.0 L526.1 807.4 L535.7 811.0 L545.2 815.4 L554.8 807.0 L564.3 798.6 L573.9 794.6 L583.4 794.2 L593.0 793.8 L602.5 787.4 L612.1 793.6 L621.6 791.4 L631.2 786.6 L640.7 788.6 L650.3 779.6 L659.8 788.0 L669.4 787.8 L678.9 797.4 L688.5 763.4 L698.0 761.4 L707.6 762.2 L717.1 766.4 L726.7 782.4 L736.2 787.6 L745.8 793.6 L755.3 790.4 L764.9 791.4 L774.4 793.4 L784.0 803.0 L793.5 805.6 L803.1 810.4 L812.6 802.6 L822.2 804.2 L831.7 800.2 L841.3 801.0 L850.8 802.6 L860.4 804.4 L869.9 798.6 L879.5 793.8 L889.0 794.8 L898.6 779.4 L908.1 787.6 L917.7 784.4 L927.2 787.8 L936.8 791.2 L946.3 818.4 L955.9 821.4 L965.4 805.4 L975.0 782.0 L984.5 785.0 L994.1 784.6 L1003.6 787.0 L1013.2 785.2 L1022.7 791.8 L1032.2 788.0 L1041.8 789.4 L1051.3 785.6 L1060.9 782.0 L1070.5 763.6 L1080.0 763.4 L1089.5 768.2 L1099.1 769.8 L1108.7 762.4 L1118.2 758.6 L1127.8 747.0 L1137.3 753.4 L1146.8 753.2 L1156.4 747.6 L1166.0 743.4 L1175.5 758.0 L1185.0 751.2 L1194.6 740.0 L1204.2 739.2 L1213.7 749.4 L1223.2 744.8 L1232.8 753.0 L1242.3 769.4 L1251.9 761.0" fill="none" stroke="#7e57c2" stroke-width="1.3" stroke-linejoin="round" stroke-linecap="round"/>
<text x="1140.6" y="801.0" font-size="18.2" fill="#14234f" font-weight="700" textLength="155.8" lengthAdjust="spacingAndGlyphs">momentum stalls</text>
</g>
<circle cx="15.5" cy="14.5" r="9.5" fill="#131722"/>
<path d="M15.6 8.6C14 11.2 11.3 13.6 11.3 16.2a4.3 4.3 0 0 0 8.6 0C19.9 13.6 17.2 11.2 15.6 8.6Z" fill="#fff"/>
<text x="29.8" y="20.9" font-size="16.6" fill="#131722" textLength="37.6" lengthAdjust="spacingAndGlyphs">West</text>
<text x="72.1" y="20.9" font-size="16.6" fill="#131722" textLength="43.8" lengthAdjust="spacingAndGlyphs">Texas</text>
<text x="119.6" y="20.9" font-size="16.6" fill="#131722" textLength="17.8" lengthAdjust="spacingAndGlyphs">Oil</text>
<text x="144.5" y="20.9" font-size="16.6" fill="#131722" text-anchor="middle">·</text>
<text x="152.1" y="20.9" font-size="16.6" fill="#131722" textLength="20.8" lengthAdjust="spacingAndGlyphs">4h</text>
<text x="179.5" y="20.9" font-size="16.6" fill="#131722" text-anchor="middle">·</text>
<text x="185.1" y="20.9" font-size="16.6" fill="#131722" textLength="56.9" lengthAdjust="spacingAndGlyphs">OANDA</text>
<path d="M260.3 5.1H271.6V23.9H260.3A9.4 9.4 0 0 1 260.3 5.1Z" fill="#dcedea"/>
<path d="M271.6 5.1H283.1A9.4 9.4 0 0 1 283.1 23.9H271.6Z" fill="#fce8ef"/>
<circle cx="262.4" cy="14.6" r="4.3" fill="#60b5a4"/>
<g stroke="#ee3d6a" stroke-width="1.3" fill="none" stroke-linecap="round"><path d="M276.7 13.5q2.3-1.9 4.6 0t4.6 0"/><path d="M276.7 16.7q2.3-1.9 4.6 0t4.6 0"/></g>
<text x="301.3" y="19.9" font-size="14" fill="#131722" textLength="9.2" lengthAdjust="spacingAndGlyphs">O</text>
<text x="312.9" y="19.9" font-size="14" fill="#5ecb88" textLength="45.4" lengthAdjust="spacingAndGlyphs">96.492</text>
<text x="365.6" y="19.9" font-size="14" fill="#131722" textLength="9.2" lengthAdjust="spacingAndGlyphs">H</text>
<text x="376.3" y="19.9" font-size="14" fill="#5ecb88" textLength="45.8" lengthAdjust="spacingAndGlyphs">98.222</text>
<text x="429.3" y="19.9" font-size="14" fill="#131722" textLength="6.6" lengthAdjust="spacingAndGlyphs">L</text>
<text x="437.3" y="19.9" font-size="14" fill="#5ecb88" textLength="46.5" lengthAdjust="spacingAndGlyphs">95.454</text>
<text x="491.0" y="19.9" font-size="14" fill="#131722" textLength="8.6" lengthAdjust="spacingAndGlyphs">C</text>
<text x="501.6" y="19.9" font-size="14" fill="#5ecb88" textLength="45.2" lengthAdjust="spacingAndGlyphs">98.114</text>
<text x="554.7" y="19.9" font-size="14" fill="#5ecb88" textLength="45.6" lengthAdjust="spacingAndGlyphs">+1.616</text>
<text x="603.8" y="19.9" font-size="14" fill="#5ecb88" textLength="60.4" lengthAdjust="spacingAndGlyphs">(+1.67%)</text>
<rect x="0.5" y="30" width="146" height="21.5" rx="2" fill="#fff" fill-opacity="0.72"/>
<text x="6.1" y="44.8" font-size="13.7" fill="#131722" textLength="27.7" lengthAdjust="spacingAndGlyphs">MAs</text>
<text x="42.3" y="44.8" font-size="13.7" fill="#f0b440" textLength="46.3" lengthAdjust="spacingAndGlyphs">93.083</text>
<text x="94.6" y="44.8" font-size="13.7" fill="#e8315b" textLength="46.8" lengthAdjust="spacingAndGlyphs">96.812</text>
<rect x="7" y="56" width="29" height="21" rx="3.5" fill="#fff" fill-opacity="0.85" stroke="#d9dbe0" stroke-width="1"/>
<path d="M17.2 68.6L21.5 64.3L25.8 68.6" stroke="#131722" stroke-width="1.5" fill="none" stroke-linecap="round" stroke-linejoin="round"/>
<rect x="0.5" y="722" width="165" height="21.5" rx="2" fill="#fff" fill-opacity="0.72"/>
<text x="6.6" y="737.4" font-size="13.3" fill="#131722" textLength="19.8" lengthAdjust="spacingAndGlyphs">RSI</text>
<text x="31.6" y="737.4" font-size="13.3" fill="#787b86" textLength="17.7" lengthAdjust="spacingAndGlyphs">14</text>
<text x="53.2" y="737.4" font-size="13.3" fill="#787b86" textLength="32.2" lengthAdjust="spacingAndGlyphs">close</text>
<circle cx="103" cy="732" r="8.3" fill="#e9e0fb"/>
<g stroke="#a586ee" stroke-width="1.5" fill="none" stroke-linecap="round" stroke-linejoin="round"><path d="M98.6 731.2a4.6 4.6 0 0 1 8.2-2.2"/><path d="M107.4 732.8a4.6 4.6 0 0 1-8.2 2.2"/><path d="M107 726.6v2.6h-2.6"/><path d="M99 737.4v-2.6h2.6"/></g>
<text x="121.6" y="737.4" font-size="13.3" fill="#7e57c2" textLength="36.8" lengthAdjust="spacingAndGlyphs">56.98</text>
<g stroke="#fff" stroke-width="3" stroke-linejoin="round" fill="#fff"><path d="M9.3 801.7H22V816.6H15.5V808.5H9.3Z"/><circle cx="27.1" cy="804.3" r="2.6"/><path d="M33.1 801.7H40.4L34.7 816.6H28.6Z"/></g>
<g fill="#111"><path d="M9.3 801.7H22V816.6H15.5V808.5H9.3Z"/><circle cx="27.1" cy="804.3" r="2.6"/><path d="M33.1 801.7H40.4L34.7 816.6H28.6Z"/></g>
<text x="47.5" y="816.6" font-size="21" fill="#111" font-weight="700" textLength="127.5" lengthAdjust="spacingAndGlyphs" stroke="#fff" stroke-width="3" stroke-linejoin="round" paint-order="stroke">TradingView</text>
<defs><clipPath id="ca"><rect x="1322" y="0" width="78" height="714"/></clipPath><clipPath id="cb"><rect x="1322" y="715" width="78" height="120"/></clipPath></defs>
<g clip-path="url(#ca)">
<text x="1332.7" y="15.0" font-size="14.7" fill="#131722" textLength="57.9" lengthAdjust="spacingAndGlyphs">128.000</text>
<text x="1332.7" y="58.7" font-size="14.7" fill="#131722" textLength="57.9" lengthAdjust="spacingAndGlyphs">124.000</text>
<text x="1332.7" y="115.4" font-size="14.7" fill="#131722" textLength="57.9" lengthAdjust="spacingAndGlyphs">119.000</text>
<text x="1332.7" y="174.5" font-size="14.7" fill="#131722" textLength="57.9" lengthAdjust="spacingAndGlyphs">114.000</text>
<text x="1332.7" y="223.7" font-size="14.7" fill="#131722" textLength="57.9" lengthAdjust="spacingAndGlyphs">110.000</text>
<text x="1332.7" y="274.7" font-size="14.7" fill="#131722" textLength="57.9" lengthAdjust="spacingAndGlyphs">106.000</text>
<text x="1332.7" y="327.7" font-size="14.7" fill="#131722" textLength="57.9" lengthAdjust="spacingAndGlyphs">102.000</text>
<text x="1332.7" y="382.8" font-size="14.7" fill="#131722" textLength="49.0" lengthAdjust="spacingAndGlyphs">98.000</text>
<text x="1332.7" y="440.1" font-size="14.7" fill="#131722" textLength="49.0" lengthAdjust="spacingAndGlyphs">94.000</text>
<text x="1332.7" y="484.8" font-size="14.7" fill="#131722" textLength="49.0" lengthAdjust="spacingAndGlyphs">91.000</text>
<text x="1332.7" y="531.0" font-size="14.7" fill="#131722" textLength="49.0" lengthAdjust="spacingAndGlyphs">88.000</text>
<text x="1332.7" y="578.7" font-size="14.7" fill="#131722" textLength="49.0" lengthAdjust="spacingAndGlyphs">85.000</text>
<text x="1332.7" y="619.8" font-size="14.7" fill="#131722" textLength="49.0" lengthAdjust="spacingAndGlyphs">82.500</text>
<text x="1332.7" y="662.2" font-size="14.7" fill="#131722" textLength="49.0" lengthAdjust="spacingAndGlyphs">80.000</text>
<text x="1332.7" y="700.6" font-size="14.7" fill="#131722" textLength="49.0" lengthAdjust="spacingAndGlyphs">77.800</text>
<rect x="1323.8" y="93.5" width="75.0" height="20.0" rx="2.5" fill="#0f2350"/>
<text x="1332.7" y="108.7" font-size="14.7" fill="#fff" textLength="57.9" lengthAdjust="spacingAndGlyphs">119.575</text>
<rect x="1323.8" y="365.3" width="65.2" height="38.30000000000001" rx="2.5" fill="#5ecb88"/>
<text x="1332.7" y="381.6" font-size="14.7" fill="#0d2a1b" textLength="49.0" lengthAdjust="spacingAndGlyphs">98.114</text>
<text x="1332.7" y="398.9" font-size="14.7" fill="#0d2a1b" textLength="40.1" lengthAdjust="spacingAndGlyphs">43:54</text>
<rect x="1323.8" y="403.6" width="65.2" height="20.599999999999966" rx="2.5" fill="#e8315b"/>
<text x="1332.7" y="419.3" font-size="14.7" fill="#fff" textLength="49.0" lengthAdjust="spacingAndGlyphs">96.812</text>
<rect x="1323.8" y="437.8" width="65.2" height="21.099999999999966" rx="2.5" fill="#f0b541"/>
<text x="1332.7" y="453.5" font-size="14.7" fill="#1c1400" textLength="49.0" lengthAdjust="spacingAndGlyphs">93.083</text>
<rect x="1323.8" y="458.9" width="65.2" height="20.30000000000001" rx="2.5" fill="#0f2350"/>
<text x="1332.7" y="474.4" font-size="14.7" fill="#fff" textLength="49.0" lengthAdjust="spacingAndGlyphs">92.702</text>
<rect x="1323.8" y="528.3" width="65.2" height="20.0" rx="2.5" fill="#000"/>
<text x="1332.7" y="543.6" font-size="14.7" fill="#fff" textLength="49.0" lengthAdjust="spacingAndGlyphs">87.201</text>
<rect x="1323.8" y="613" width="65.2" height="20" rx="2.5" fill="#000"/>
<text x="1332.7" y="627.9" font-size="14.7" fill="#fff" textLength="49.0" lengthAdjust="spacingAndGlyphs">81.993</text>
<rect x="1323.8" y="634" width="65.2" height="20" rx="2.5" fill="#3b62f0"/>
<text x="1332.7" y="649.2" font-size="14.7" fill="#fff" textLength="49.0" lengthAdjust="spacingAndGlyphs">80.814</text>
<rect x="1323.8" y="675.8" width="65.2" height="20.0" rx="2.5" fill="#3b62f0"/>
<text x="1332.7" y="691.2" font-size="14.7" fill="#fff" textLength="49.0" lengthAdjust="spacingAndGlyphs">78.346</text>
</g>
<g clip-path="url(#cb)">
<text x="1332.7" y="720.2" font-size="14.7" fill="#131722" textLength="40.1" lengthAdjust="spacingAndGlyphs">80.00</text>
<text x="1332.7" y="760.2" font-size="14.7" fill="#131722" textLength="40.1" lengthAdjust="spacingAndGlyphs">60.00</text>
<text x="1332.7" y="800.2" font-size="14.7" fill="#131722" textLength="40.1" lengthAdjust="spacingAndGlyphs">40.00</text>
<rect x="1323.8" y="751" width="55.7" height="20" rx="2.5" fill="#7e57c2"/>
<text x="1332.7" y="766.2" font-size="14.7" fill="#fff" textLength="40.1" lengthAdjust="spacingAndGlyphs">56.98</text>
</g>
<text x="77.2" y="853.7" font-size="14.7" fill="#131722" text-anchor="middle" textLength="17.8" lengthAdjust="spacingAndGlyphs">26</text>
<text x="172.8" y="853.7" font-size="14.7" fill="#131722" text-anchor="middle" textLength="17.8" lengthAdjust="spacingAndGlyphs">29</text>
<text x="306.5" y="853.7" font-size="14.7" fill="#131722" font-weight="700" text-anchor="middle" textLength="28.5" lengthAdjust="spacingAndGlyphs">Apr</text>
<text x="402.0" y="853.7" font-size="14.7" fill="#131722" text-anchor="middle" textLength="8.9" lengthAdjust="spacingAndGlyphs">5</text>
<text x="478.4" y="853.7" font-size="14.7" fill="#131722" text-anchor="middle" textLength="8.9" lengthAdjust="spacingAndGlyphs">7</text>
<text x="593.0" y="853.7" font-size="14.7" fill="#131722" text-anchor="middle" textLength="8.9" lengthAdjust="spacingAndGlyphs">9</text>
<text x="688.5" y="853.7" font-size="14.7" fill="#131722" text-anchor="middle" textLength="17.8" lengthAdjust="spacingAndGlyphs">12</text>
<text x="764.9" y="853.7" font-size="14.7" fill="#131722" text-anchor="middle" textLength="17.8" lengthAdjust="spacingAndGlyphs">14</text>
<text x="879.5" y="853.7" font-size="14.7" fill="#131722" text-anchor="middle" textLength="17.8" lengthAdjust="spacingAndGlyphs">16</text>
<text x="975.0" y="853.7" font-size="14.7" fill="#131722" text-anchor="middle" textLength="17.8" lengthAdjust="spacingAndGlyphs">19</text>
<text x="1051.3" y="853.7" font-size="14.7" fill="#131722" text-anchor="middle" textLength="17.8" lengthAdjust="spacingAndGlyphs">21</text>
<text x="1166.0" y="853.7" font-size="14.7" fill="#131722" text-anchor="middle" textLength="17.8" lengthAdjust="spacingAndGlyphs">23</text>
<text x="1261.5" y="853.7" font-size="14.7" fill="#131722" text-anchor="middle" textLength="17.8" lengthAdjust="spacingAndGlyphs">26</text>
<g stroke="#131722" stroke-width="1.3" fill="none" stroke-linejoin="round"><path d="M1355 848.8L1358.9 841.9H1366.7L1370.6 848.8L1366.7 855.7H1358.9Z"/><circle cx="1362.8" cy="848.8" r="2.4"/></g>
</svg>
</body></html>
